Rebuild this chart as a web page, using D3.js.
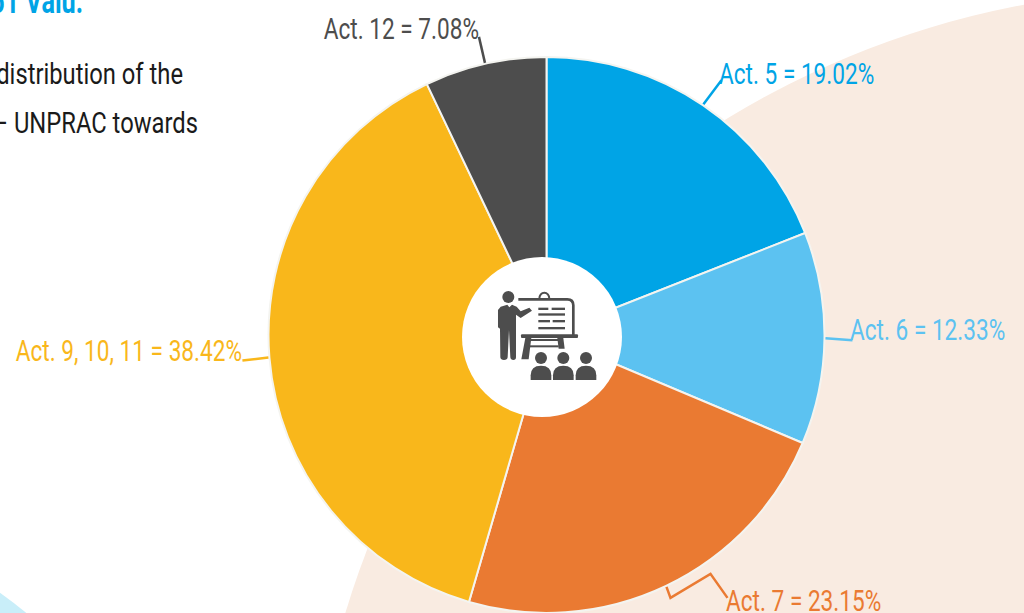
<!DOCTYPE html>
<html>
<head>
<meta charset="utf-8">
<script src="https://cdnjs.cloudflare.com/ajax/libs/d3/7.8.5/d3.min.js"></script>
<style>
  html, body { margin: 0; padding: 0; background: #fff; overflow: hidden; }
  text { font-family: "Roboto", sans-serif; }
</style>
</head>
<body>
<svg id="chart"></svg>
<script>
// slices go clockwise from 12 o'clock
const categories = ["Act. 5", "Act. 6", "Act. 7", "Act. 9, 10, 11", "Act. 12"];
const shares = [19.02, 12.33, 23.15, 38.42, 7.08];
const colors = ["#00a4e6", "#5cc2f1", "#ea7a32", "#f9b71b", "#4d4d4d"];

const width = 1024, height = 613;
const cx = 546.5, cy = 335, radius = 278;
const narrow = 0.78; // no condensed font installed, so squeeze Roboto

// leader line bend points relative to the rim of the slice, then label x/baseline
const leaders = [
    { bends: [[18, -24]], lx: 719, ly: 84, anchor: "start" },
    { bends: [[27, 2]], lx: 850, ly: 340, anchor: "start" },
    { bends: [[4, 11], [44, -13], [61, 11]], lx: 726, ly: 611, anchor: "start" },
    { bends: [[-26, 3]], lx: 242, ly: 361, anchor: "end" },
    { bends: [[-6, -26]], lx: 479, ly: 39, anchor: "end" }
];

const svg = d3.select("#chart")
    .attr("width", width)
    .attr("height", height)
    .style("display", "block");

function label(x, y, anchor, size, fill, str, sx = narrow) {
    return svg.append("text")
        .attr("transform", `translate(${x},${y}) scale(${sx},1)`)
        .attr("text-anchor", anchor)
        .attr("font-size", size)
        .attr("fill", fill)
        .text(str);
}

// background blobs
svg.append("circle")
    .attr("cx", 1184).attr("cy", 866).attr("r", 876)
    .attr("fill", "#f9ebe1");
svg.append("circle")
    .attr("cx", -300).attr("cy", 1010).attr("r", 514)
    .attr("fill", "#c9eef9");

// intro text, cut off by the page edge
label(83, 13, "end", 35, "#00a4e6", "51 Valu.", 0.72).attr("font-weight", 700);
label(183, 84, "end", 29, "#1a1a1a", "distribution of the", 0.82);
label(198, 133, "end", 29, "#1a1a1a", "– UNPRAC towards", 0.82);

const pie = d3.pie().sort(null).value(d => d);
const arc = d3.arc().innerRadius(0).outerRadius(radius);
const arcs = pie(shares);

const g = svg.append("g").attr("transform", `translate(${cx},${cy})`);

g.selectAll("path")
    .data(arcs)
    .join("path")
    .attr("d", arc)
    .attr("fill", (d, i) => colors[i])
    .attr("stroke", "#f4f4f0")
    .attr("stroke-width", 2);

// leader lines start on the rim at the middle of each slice
const line = d3.line();
arcs.forEach((d, i) => {
    const mid = (d.startAngle + d.endAngle) / 2;
    const rimX = cx + Math.sin(mid) * (radius + 1);
    const rimY = cy - Math.cos(mid) * (radius + 1);
    const l = leaders[i];
    const pts = [[rimX, rimY]].concat(l.bends.map(b => [rimX + b[0], rimY + b[1]]));

    svg.append("path")
        .attr("d", line(pts))
        .attr("fill", "none")
        .attr("stroke", colors[i])
        .attr("stroke-width", 2.5);

    label(l.lx, l.ly, l.anchor, 29, colors[i], `${categories[i]} = ${shares[i].toFixed(2)}%`);
});

// centre hole
svg.append("circle")
    .attr("cx", 542).attr("cy", 337).attr("r", 80)
    .attr("fill", "#fff");

// teacher icon, drawn in zoomed-crop units then scaled down
const icon = svg.append("g")
    .attr("transform", "translate(450,270) scale(0.3333)")
    .attr("fill", "#4d4d4d");

icon.append("circle").attr("cx", 175).attr("cy", 81).attr("r", 18);
icon.append("path").attr("d", "M152 110 L172 104 L178 112 L186 104 L200 110 L212 124 L238 113 L246 122 L212 144 L198 134 L198 262 Q198 270 190 270 Q182 270 181 262 L177 180 L173 262 Q172 270 162 270 Q152 270 151 262 L150 176 L144 172 L144 120 Z");
// board
icon.append("path")
    .attr("d", "M205 88 H352 Q370 88 370 106 V195")
    .attr("fill", "none").attr("stroke", "#4d4d4d").attr("stroke-width", 8);
icon.append("path")
    .attr("d", "M268 86 A15 18 0 1 1 298 86")
    .attr("fill", "none").attr("stroke", "#4d4d4d").attr("stroke-width", 6);
icon.append("rect").attr("x", 213).attr("y", 193).attr("width", 171).attr("height", 11).attr("rx", 3);
icon.selectAll("rect.row")
    .data([[265, 113, 30], [305, 113, 40], [265, 130, 80], [265, 150, 35], [308, 150, 37], [265, 171, 80]])
    .join("rect")
    .attr("class", "row")
    .attr("x", d => d[0]).attr("y", d => d[1])
    .attr("width", d => d[2]).attr("height", 7);
// easel legs
icon.append("path").attr("d", "M226 204 H244 L236 268 H214 Z");
icon.append("path").attr("d", "M322 204 H340 L344 236 H326 Z");
icon.append("rect").attr("x", 240).attr("y", 207).attr("width", 85).attr("height", 6);
icon.append("rect").attr("x", 236).attr("y", 226).attr("width", 90).attr("height", 6);
// audience
icon.selectAll("g.person")
    .data([273, 340, 408])
    .join("g")
    .attr("class", "person")
    .each(function (x) {
        const p = d3.select(this);
        p.append("circle").attr("cx", x).attr("cy", 264).attr("r", 18);
        p.append("path").attr("d", `M${x - 31} 330 V316 Q${x - 31} 287 ${x} 287 Q${x + 31} 287 ${x + 31} 316 V330 Z`);
    });
</script>
</body>
</html>
